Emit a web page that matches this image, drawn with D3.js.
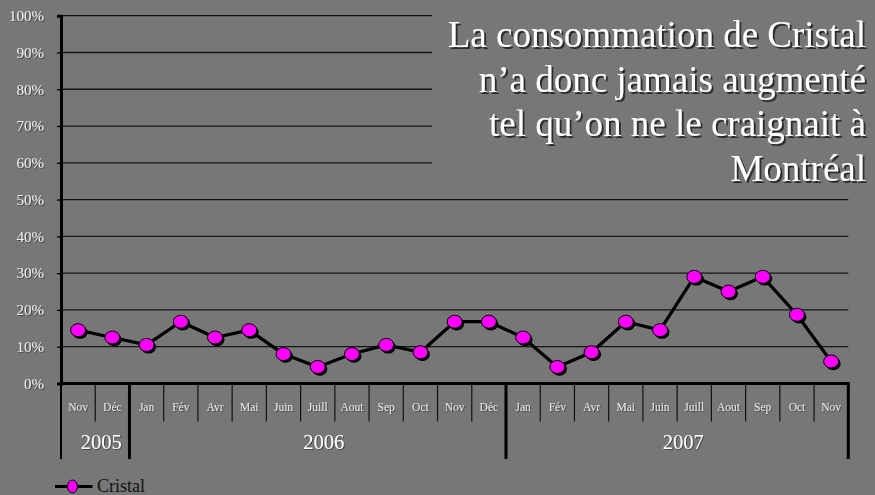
<!DOCTYPE html>
<html>
<head>
<meta charset="utf-8">
<script src="https://cdn.jsdelivr.net/npm/d3@7/dist/d3.min.js"></script>
<style>
  body { margin: 0; background: #777777; }
  svg { display: block; font-family: "Liberation Serif", "Times New Roman", serif; }
</style>
</head>
<body>
<svg id="chart" width="875" height="495"></svg>
<script>
  // categories (month, year) and series
  var months = ['Nov', 'Déc', 'Jan', 'Fév', 'Avr', 'Mai', 'Juin', 'Juill', 'Aout', 'Sep', 'Oct', 'Nov', 'Déc',
    'Jan', 'Fév', 'Avr', 'Mai', 'Juin', 'Juill', 'Aout', 'Sep', 'Oct', 'Nov'];
  var years = ['2005', '2005', '2006', '2006', '2006', '2006', '2006', '2006', '2006', '2006', '2006', '2006', '2006',
    '2007', '2007', '2007', '2007', '2007', '2007', '2007', '2007', '2007', '2007'];
  var cristal = [0.145, 0.125, 0.105, 0.168, 0.125, 0.145, 0.08, 0.045, 0.08, 0.105, 0.085, 0.168, 0.168,
    0.125, 0.045, 0.085, 0.168, 0.145, 0.29, 0.25, 0.29, 0.187, 0.06];
  var yTicks = [0, 0.1, 0.2, 0.3, 0.4, 0.5, 0.6, 0.7, 0.8, 0.9, 1];
  var seriesName = 'Cristal';
  var titleLines = ['La consommation de Cristal', 'n’a donc jamais augmenté', 'tel qu’on ne le craignait à', 'Montréal'];

  var svg = d3.select('#chart');
  var bg = '#777777';

  var defs = svg.append('defs');
  defs.append('filter').attr('id', 'txtshadow')
    .append('feDropShadow').attr('dx', 2).attr('dy', 2).attr('stdDeviation', 0.6)
    .attr('flood-color', '#222').attr('flood-opacity', 0.9);
  defs.append('filter').attr('id', 'smallshadow')
    .append('feDropShadow').attr('dx', 1).attr('dy', 1).attr('stdDeviation', 0.4)
    .attr('flood-color', '#333').attr('flood-opacity', 0.7);

  var idx = d3.range(months.length);
  var x = d3.scaleBand().domain(idx).range([61, 848.3]);
  var y = d3.scaleLinear().domain([0, 1]).range([383.5, 15.7]);

  // gridlines
  svg.append('g').selectAll('line')
    .data(yTicks.filter(d => d > 0))
    .join('line')
    .attr('x1', 61).attr('x2', 848.3)
    .attr('y1', d => y(d)).attr('y2', d => y(d))
    .attr('stroke', '#151515').attr('stroke-width', 1.3);

  // y axis
  var yAxis = svg.append('g')
    .attr('transform', 'translate(61,0)')
    .call(d3.axisLeft(y).tickValues(yTicks).tickFormat(d3.format('.0%')).tickSize(4).tickPadding(13));
  yAxis.select('.domain').attr('stroke', '#000').attr('stroke-width', 3);
  yAxis.selectAll('.tick line').attr('stroke', '#000').attr('stroke-width', 1.3);
  yAxis.selectAll('.tick text')
    .attr('fill', '#eeeeee').attr('font-size', 15)
    .attr('font-family', '"Liberation Serif", serif')
    .attr('filter', 'url(#smallshadow)');

  // x axis: month separators
  var xg = svg.append('g');
  xg.selectAll('line.m')
    .data(idx.slice(1))
    .join('line').attr('class', 'm')
    .attr('x1', d => x(d)).attr('x2', d => x(d))
    .attr('y1', 384).attr('y2', 421.5)
    .attr('stroke', '#111').attr('stroke-width', 1.2);

  xg.selectAll('text.m')
    .data(idx)
    .join('text').attr('class', 'm')
    .attr('x', d => x(d) + x.bandwidth() / 2)
    .attr('y', 411)
    .attr('text-anchor', 'middle')
    .attr('font-size', 11.5)
    .attr('fill', '#e6e6e6')
    .attr('filter', 'url(#smallshadow)')
    .text(d => months[d]);

  // year groups
  var groups = [];
  idx.forEach(function (i) {
    var g = groups[groups.length - 1];
    if (!g || g.year !== years[i]) groups.push({ year: years[i], start: i, end: i });
    else g.end = i;
  });
  var bounds = [groups[0].start].concat(groups.map(g => g.end + 1));
  xg.selectAll('line.y')
    .data(bounds)
    .join('line').attr('class', 'y')
    .attr('x1', d => d < months.length ? x(d) : x.range()[1])
    .attr('x2', d => d < months.length ? x(d) : x.range()[1])
    .attr('y1', 384).attr('y2', 459)
    .attr('stroke', '#000')
    .attr('stroke-width', (d, i) => i === 0 ? 2 : 3);

  xg.selectAll('text.y')
    .data(groups)
    .join('text').attr('class', 'y')
    .attr('x', g => (x(g.start) + x(g.end) + x.bandwidth()) / 2 + 6)
    .attr('y', 449)
    .attr('text-anchor', 'middle')
    .attr('font-size', 20.5)
    .attr('fill', '#ffffff')
    .attr('filter', 'url(#smallshadow)')
    .text(g => g.year);

  // x axis baseline
  svg.append('line')
    .attr('x1', 59.5).attr('x2', 849.8)
    .attr('y1', y(0)).attr('y2', y(0))
    .attr('stroke', '#000').attr('stroke-width', 3);

  // title box covering grid
  svg.append('rect')
    .attr('x', 432).attr('y', 0).attr('width', 443).attr('height', 190)
    .attr('fill', bg);
  svg.append('text')
    .attr('text-anchor', 'end')
    .attr('font-size', 37)
    .attr('fill', '#ffffff')
    .attr('filter', 'url(#txtshadow)')
    .selectAll('tspan')
    .data(titleLines)
    .join('tspan')
    .attr('x', 866)
    .attr('y', (d, i) => 47 + i * 44.7)
    .text(d => d);

  // series line
  var line = d3.line()
    .x((d, i) => x(i) + x.bandwidth() / 2)
    .y(d => y(d));

  svg.append('path')
    .datum(cristal)
    .attr('d', line)
    .attr('fill', 'none')
    .attr('stroke', '#000').attr('stroke-width', 3.2)
    .attr('stroke-linejoin', 'round');

  var pts = svg.append('g');
  pts.selectAll('ellipse.sh')
    .data(cristal)
    .join('ellipse').attr('class', 'sh')
    .attr('cx', (d, i) => x(i) + x.bandwidth() / 2 + 2)
    .attr('cy', d => y(d) + 2.2)
    .attr('rx', 7.5).attr('ry', 6.5)
    .attr('fill', '#000');
  pts.selectAll('ellipse.pt')
    .data(cristal)
    .join('ellipse').attr('class', 'pt')
    .attr('cx', (d, i) => x(i) + x.bandwidth() / 2)
    .attr('cy', d => y(d))
    .attr('rx', 7.5).attr('ry', 6.5)
    .attr('fill', '#ff00ff')
    .attr('stroke', '#000').attr('stroke-width', 1);

  // legend
  var lg = svg.append('g');
  lg.append('line')
    .attr('x1', 55).attr('x2', 92.5).attr('y1', 486.5).attr('y2', 486.5)
    .attr('stroke', '#000').attr('stroke-width', 3);
  lg.append('ellipse')
    .attr('cx', 72.5).attr('cy', 486.5).attr('rx', 5).attr('ry', 6.5)
    .attr('fill', '#ff00ff').attr('stroke', '#000').attr('stroke-width', 1);
  lg.append('text')
    .attr('x', 97).attr('y', 492)
    .attr('font-size', 18)
    .attr('fill', '#111')
    .text(seriesName);
</script>
</body>
</html>
